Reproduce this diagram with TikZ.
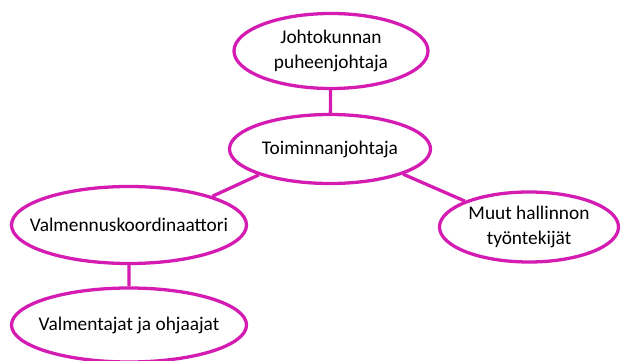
\documentclass[tikz,border=0pt]{standalone}
\usepackage{fontspec}
\setmainfont{Carlito}
\usetikzlibrary{shapes.geometric}
\definecolor{orgpink}{RGB}{212,28,178}

\begin{document}
\begin{tikzpicture}[thick, line width=2.8pt,
    unit/.style={ellipse, draw=orgpink, line width=2.8pt, align=center, inner xsep=-0.7cm, inner ysep=0pt, font=\fontsize{16.5}{22}\selectfont},
    link/.style={draw=orgpink, line width=2.8pt}]
    \useasboundingbox (0,0) rectangle (18.63,10.8);
    % Nodes
    \node[unit, minimum width=5.82cm, minimum height=2.25cm] (pj) at (9.93,9.27) {Johtokunnan\\puheenjohtaja};
    \node[unit, minimum width=6.03cm, minimum height=2.07cm] (tj) at (9.9,6.33) {Toiminnanjohtaja};
    \node[unit, minimum width=7.05cm, minimum height=2.31cm] (vk) at (3.87,4.05) {Valmennuskoordinaattori};
    \node[unit, minimum width=5.37cm, minimum height=2.1cm] (muut) at (15.87,3.99) {Muut hallinnon\\työntekijät};
    \node[unit, minimum width=7.05cm, minimum height=2.22cm] (valm) at (3.87,1.05) {Valmentajat ja ohjaajat};

    % Connections
    \path[link]
        (pj) -- (tj)
        (tj.200) -- (vk.19)
        (tj.341) -- (muut.158)
        (vk) -- (valm);
\end{tikzpicture}
\end{document}
